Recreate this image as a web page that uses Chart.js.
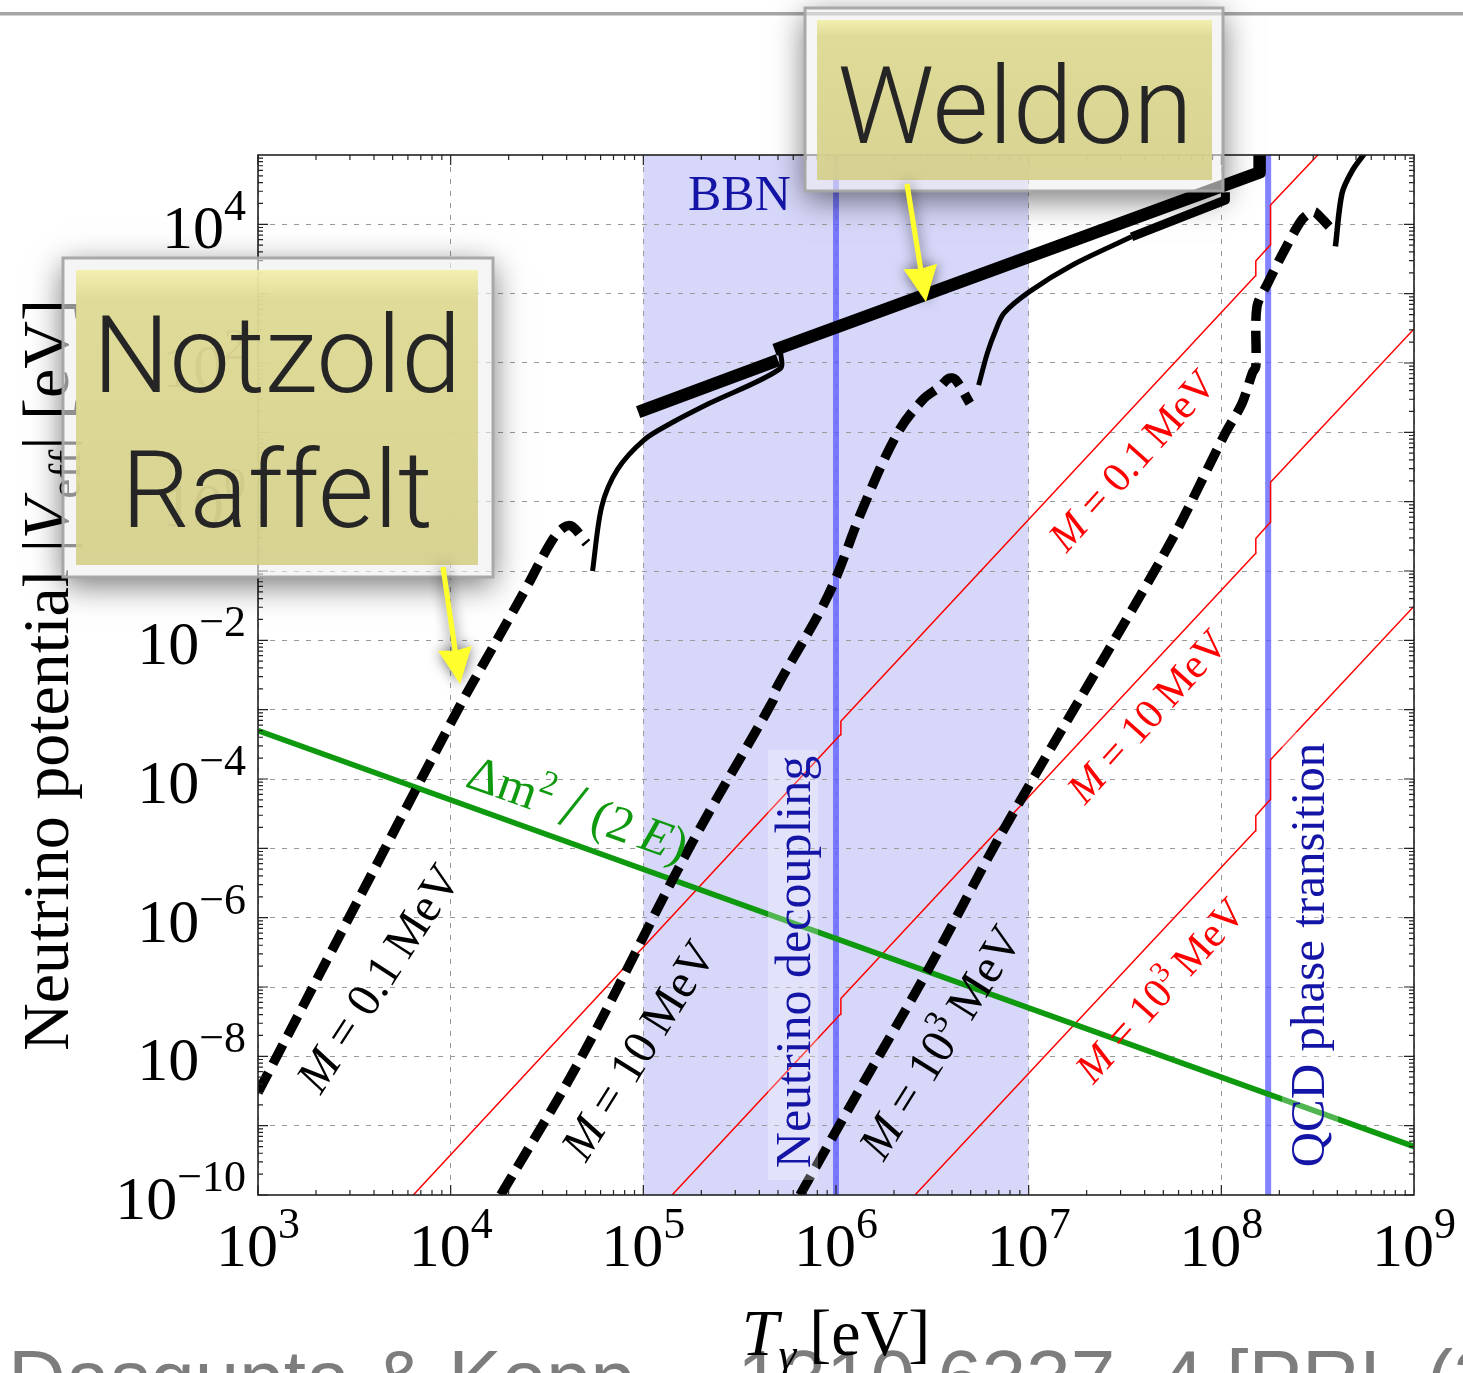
<!DOCTYPE html>
<html>
<head>
<meta charset="utf-8">
<script src="https://cdn.jsdelivr.net/npm/chart.js@4.4.1/dist/chart.umd.min.js"></script>
<style>
  html, body { margin: 0; padding: 0; background: #fff; }
  canvas { display: block; }
</style>
</head>
<body>
<canvas id="chart" width="1463" height="1373"></canvas>
<script>
// axis decades
const xTickExps = [3, 4, 5, 6, 7, 8, 9];
const yTickExps = [4, 2, 0, -2, -4, -6, -8, -10];
const yGridExps = [-9, -8, -7, -6, -5, -4, -3, -2, -1, 0, 1, 2, 3, 4];

// shaded BBN band and vertical markers (T in eV)
const bbnRange = [1e5, 1e7];
const nuDecT = 1e6;
const qcdT = 1.75e8;

// Delta m^2 / (2E)
const greenT = [1e3, 1e9];
const greenV = [5e-4, 5e-10];

// red lines, M = 0.1, 10, 10^3 MeV
const redAT = [6.4e3, 1.05e6, 1.06e6, 1.5e8, 1.51e8, 1.79e8, 1.8e8, 3.24e8];
const redAV = [1e-10, 4.3e-4, 6.8e-4, 1.8e3, 2.95e3, 5.0e3, 1.9e4, 1.07e5];
const redBT = [1.41e5, 1.05e6, 1.06e6, 1.5e8, 1.51e8, 1.79e8, 1.8e8, 1e9];
const redBV = [1e-10, 4.0e-8, 6.8e-8, 0.178, 0.295, 0.50, 1.9, 310];
const redCT = [2.57e6, 1.5e8, 1.51e8, 1.79e8, 1.8e8, 1e9];
const redCV = [1e-10, 1.78e-5, 2.95e-5, 5.0e-5, 1.9e-4, 3.1e-2];

// black curves: dashed (T << M) and solid (T >> M)
const dash01T = [1e3, 3.16e3, 1.1e4, 1.58e4, 2.44e4, 3.37e4, 3.89e4, 4.27e4, 5.08e4];
const dash01V = [3.0e-9, 1.4e-6, 1.05e-3, 6.3e-3, 5.4e-2, 0.28, 0.43, 0.44, 0.25];
const sol01T = [5.45e4, 6.08e4, 7.33e4, 1.01e5, 1.39e5, 2.19e5, 5.13e5, 5.15e5];
const sol01V = [0.10, 0.85, 2.9, 7.8, 13.5, 26, 83, 148];

const dash10T = [1.82e4, 4.69e4, 1.75e5, 4.73e5, 4.84e5, 9.12e5, 1.39e6, 2.09e6, 2.82e6, 3.47e6, 3.85e6, 4.17e6, 4.95e6];
const dash10V = [1e-10, 8.9e-9, 1.07e-5, 1.38e-3, 1.9e-3, 4.5e-2, 0.85, 9.8, 29.5, 45.7, 60, 57.5, 26.3];
const sol10T = [5.5e6, 6.1e6, 6.76e6, 7.45e6, 1.01e7, 1.68e7, 3.42e7];
const sol10V = [48, 138, 302, 525, 1.07e3, 2.57e3, 6.6e3];
const sol10bT = [3.42e7, 1.05e8, 1.05e8];
const sol10bV = [6.6e3, 2.24e4, 2.9e4];

const dash1kT = [6.5e5, 1.23e6, 2.95e6, 7.1e6, 2.54e7, 5.64e7, 1.05e8, 1.28e8, 1.45e8, 1.51e8, 1.53e8, 1.74e8, 2.13e8, 2.61e8, 2.95e8, 3.09e8, 3.63e8];
const dash1kV = [1e-10, 2.3e-9, 1.6e-7, 1.5e-5, 6.5e-3, 0.31, 9.8, 26, 72, 89, 646, 1.41e3, 4.27e3, 1.15e4, 1.51e4, 1.48e4, 9.3e3];
const sol1kT = [3.91e8, 4.23e8, 4.79e8, 5.56e8];
const sol1kV = [4.8e3, 2.8e4, 6.0e4, 1.07e5];

// thick "Weldon" asymptote
const weld1T = [9.4e4, 5.0e5];
const weld1V = [19.5, 110];
const weld2T = [4.8e5, 1.58e8, 1.58e8];
const weld2V = [155, 5.6e4, 1.2e5];

const SERIF = '"Liberation Serif", "Times New Roman", serif';
const pts = (T, V) => T.map((t, i) => ({ x: t, y: V[i] }));

function line(T, V, color, width, extra) {
  return Object.assign({
    data: pts(T, V), showLine: true, borderColor: color, borderWidth: width,
    pointRadius: 0, tension: 0, fill: false, borderJoinStyle: 'round'
  }, extra || {});
}

function richWidth(ctx, parts) {
  let w = 0;
  parts.forEach(p => { ctx.font = p.font; w += ctx.measureText(p.t).width; });
  return w;
}
function drawRich(ctx, parts, x, y, angle, align, color) {
  ctx.save();
  ctx.translate(x, y);
  ctx.rotate(angle * Math.PI / 180);
  ctx.fillStyle = color;
  ctx.textBaseline = 'alphabetic';
  ctx.textAlign = 'left';
  const w = richWidth(ctx, parts);
  let cx = align === 'center' ? -w / 2 : align === 'right' ? -w : 0;
  parts.forEach(p => {
    ctx.font = p.font;
    ctx.fillText(p.t, cx, p.dy || 0);
    cx += ctx.measureText(p.t).width;
  });
  ctx.restore();
  return w;
}
function powParts(e, big, small, raise) {
  const s = (e < 0 ? '\u2212' + (-e) : String(e));
  return [{ t: '10', font: big + 'px ' + SERIF }, { t: s, font: small + 'px ' + SERIF, dy: -raise }];
}
function mLabel(pre, exp, size, dy) {
  const f = size + 'px ' + SERIF, fi = 'italic ' + size + 'px ' + SERIF;
  const parts = [{ t: 'M', font: fi, dy }, { t: ' = ' + pre, font: f, dy }];
  if (exp) parts.push({ t: exp, font: Math.round(size * 0.68) + 'px ' + SERIF, dy: dy - size * 0.4 });
  parts.push({ t: '\u2009MeV', font: f, dy });
  return parts;
}

const bandPlugin = {
  id: 'band',
  beforeDraw(chart) {
    const { ctx, chartArea: a, scales: { x } } = chart;
    // clipped footer line of the slide
    ctx.save();
    ctx.fillStyle = '#7d7d7d';
    ctx.font = '80px "Liberation Sans", Arial, sans-serif';
    ctx.fillText('Dasgupta & Kopp', 8, 1406);
    ctx.fillText('1310.6337, 4 [PRL (2014)]', 737, 1406);
    ctx.restore();
    const x0 = x.getPixelForValue(bbnRange[0]);
    const x1 = x.getPixelForValue(bbnRange[1]);
    ctx.save();
    ctx.fillStyle = 'rgb(215,215,250)';
    ctx.fillRect(x0, a.top, x1 - x0, a.bottom - a.top);
    ctx.restore();
  }
};

const axesPlugin = {
  id: 'axes',
  afterDatasetsDraw(chart) {
    const { ctx, chartArea: a, scales: { x, y } } = chart;
    ctx.save();
    // minor / major tick marks on all four sides
    ctx.strokeStyle = '#222';
    ctx.lineWidth = 1.2;
    ctx.beginPath();
    for (let d = 3; d < 9; d++) {
      for (let k = 1; k < 10; k++) {
        const px = x.getPixelForValue(k * Math.pow(10, d));
        const L = k === 1 ? 10 : 5;
        ctx.moveTo(px, a.bottom); ctx.lineTo(px, a.bottom - L);
        ctx.moveTo(px, a.top); ctx.lineTo(px, a.top + L);
      }
    }
    for (let d = -10; d < 5; d++) {
      for (let k = 1; k < 10; k++) {
        const py = y.getPixelForValue(k * Math.pow(10, d));
        const L = k === 1 ? 10 : 5;
        ctx.moveTo(a.left, py); ctx.lineTo(a.left + L, py);
        ctx.moveTo(a.right, py); ctx.lineTo(a.right - L, py);
      }
    }
    ctx.stroke();
    ctx.lineWidth = 1.6;
    ctx.strokeRect(a.left, a.top, a.right - a.left, a.bottom - a.top);
    ctx.restore();

    // tick labels
    xTickExps.forEach(e => {
      drawRich(ctx, powParts(e, 62, 44, 28), x.getPixelForValue(Math.pow(10, e)), 1266, 0, 'center', '#000');
    });
    yTickExps.forEach(e => {
      const py = y.getPixelForValue(Math.pow(10, e));
      drawRich(ctx, powParts(e, 62, 44, 28), 246, py + 24, 0, 'right', '#000');
    });

    // axis titles
    const t64 = '66px ' + SERIF, i64 = 'italic 66px ' + SERIF, s44 = '45px ' + SERIF;
    drawRich(ctx, [
      { t: 'Neutrino potential |', font: t64 },
      { t: 'V', font: i64 },
      { t: 'eff', font: s44, dy: 12 },
      { t: '| [eV]', font: t64 }
    ], 68, 675, -90, 'center', '#000');
    drawRich(ctx, [
      { t: 'T', font: i64 },
      { t: '\u03b3', font: 'italic 45px ' + SERIF, dy: 14 },
      { t: '\u2009[eV]', font: t64 }
    ], 836, 1355, 0, 'center', '#000');

    // region labels
    const blue = '#1414a6';
    drawRich(ctx, [{ t: 'BBN', font: '50px ' + SERIF }], 688, 210, 0, 'left', blue);
    ctx.save();
    ctx.fillStyle = 'rgba(255,255,255,0.28)';
    ctx.fillRect(768, 750, 50, 430);
    ctx.fillRect(1282, 732, 56, 446);
    ctx.restore();
    drawRich(ctx, [{ t: 'Neutrino decoupling', font: '50px ' + SERIF }], 810, 962, -90, 'center', blue);
    drawRich(ctx, [{ t: 'QCD phase transition', font: '49px ' + SERIF }], 1324, 955, -90, 'center', blue);

    // green label
    const g = '#0e990e';
    drawRich(ctx, [
      { t: '\u0394m', font: '50px ' + SERIF },
      { t: '2', font: '34px ' + SERIF, dy: -20 },
      { t: ' ', font: '50px ' + SERIF },
      { t: '/', font: '66px ' + SERIF, dy: 4 },
      { t: ' (2\u2009', font: '50px ' + SERIF },
      { t: 'E', font: 'italic 50px ' + SERIF },
      { t: ')', font: '50px ' + SERIF }
    ], 464, 786, 19.5, 'left', g);

    // mass labels
    drawRich(ctx, mLabel('0.1', '', 48, 16), 378, 978, -57, 'center', '#000');
    drawRich(ctx, mLabel('10', '', 48, 16), 638, 1050, -58, 'center', '#000');
    drawRich(ctx, mLabel('10', '3', 48, 16), 940, 1042, -58, 'center', '#000');
    drawRich(ctx, mLabel('0.1', '', 42, 14), 1132, 460, -48, 'center', '#f00');
    drawRich(ctx, mLabel('10', '', 42, 14), 1147, 716, -48, 'center', '#f00');
    drawRich(ctx, mLabel('10', '3', 42, 14), 1160, 990, -48, 'center', '#f00');
  }
};

function noteBox(ctx, o, inner, lines, cx) {
  const [ox, oy, ow, oh] = o;
  const [ix, iy, iw, ih] = inner;
  // soft drop shadow outside the box only
  ctx.save();
  ctx.beginPath();
  ctx.rect(0, 0, 1463, 1373);
  ctx.rect(ox, oy, ow, oh);
  ctx.clip('evenodd');
  ctx.shadowColor = 'rgba(0,0,0,0.55)';
  ctx.shadowBlur = 30;
  ctx.shadowOffsetY = 8;
  ctx.fillStyle = '#ccc';
  ctx.fillRect(ox, oy, ow, oh);
  ctx.restore();

  ctx.save();
  ctx.fillStyle = 'rgba(238,238,238,0.6)';
  ctx.fillRect(ox, oy, ow, oh);
  ctx.strokeStyle = 'rgba(165,165,165,0.95)';
  ctx.lineWidth = 3;
  ctx.strokeRect(ox, oy, ow, oh);
  const grad = ctx.createLinearGradient(0, iy, 0, iy + ih);
  grad.addColorStop(0, 'rgba(243,239,168,0.9)');
  grad.addColorStop(0.1, 'rgba(221,216,142,0.9)');
  grad.addColorStop(1, 'rgba(212,207,135,0.9)');
  ctx.fillStyle = grad;
  ctx.fillRect(ix, iy, iw, ih);
  ctx.fillStyle = '#252525';
  ctx.font = '300 108px Roboto, "Liberation Sans", sans-serif';
  ctx.textAlign = 'center';
  lines.forEach(l => ctx.fillText(l[0], cx, l[1]));
  ctx.restore();
}

function arrow(ctx, x0, y0, x1, y1) {
  const ang = Math.atan2(y1 - y0, x1 - x0);
  const L = Math.hypot(x1 - x0, y1 - y0);
  ctx.save();
  ctx.shadowColor = 'rgba(0,0,0,0.6)';
  ctx.shadowBlur = 14;
  ctx.translate(x1, y1);
  ctx.rotate(ang);
  ctx.fillStyle = '#ffff2e';
  ctx.beginPath();
  ctx.moveTo(-L, -2.6); ctx.lineTo(-34, -2.6); ctx.lineTo(-36, -17);
  ctx.lineTo(0, 0);
  ctx.lineTo(-36, 17); ctx.lineTo(-34, 2.6); ctx.lineTo(-L, 2.6);
  ctx.closePath();
  ctx.fill();
  ctx.restore();
}

const notesPlugin = {
  id: 'notes',
  afterDraw(chart) {
    const ctx = chart.ctx;
    ctx.save();
    ctx.fillStyle = '#a6a6a6';
    ctx.fillRect(0, 12, 1463, 3.5);
    ctx.restore();
    noteBox(ctx, [805, 8, 418, 183], [817, 20, 395, 160], [['Weldon', 143]], 1015);
    noteBox(ctx, [63, 258, 430, 319], [76, 270, 402, 295], [['Notzold', 392], ['Raffelt', 527]], 277);
    arrow(ctx, 907, 184, 926, 302);
    arrow(ctx, 443, 567, 460, 684);
  }
};

new Chart(document.getElementById('chart'), {
  type: 'scatter',
  data: {
    datasets: [
      line(dash01T, dash01V, '#000', 9.5, { borderDash: [22, 10], tension: 0.35, order: 1 }),
      line(sol01T, sol01V, '#000', 5, { tension: 0.3, order: 1 }),
      line(weld1T, weld1V, '#000', 12.5, { order: 1 }),
      line(weld2T, weld2V, '#000', 12.5, { order: 1 }),
      line(dash10T, dash10V, '#000', 9.5, { borderDash: [22, 10], tension: 0.35, order: 1 }),
      line(sol10T, sol10V, '#000', 5, { tension: 0.3, order: 1 }),
      line(sol10bT, sol10bV, '#000', 9, { order: 1 }),
      line(dash1kT, dash1kV, '#000', 9.5, { borderDash: [22, 10], tension: 0.3, order: 1 }),
      line(sol1kT, sol1kV, '#000', 5.5, { tension: 0.3, order: 1 }),
      line(greenT, greenV, '#0e990e', 5.5, { order: 2 }),
      line(redAT, redAV, '#ff0000', 1.5, { order: 3 }),
      line(redBT, redBV, '#ff0000', 1.5, { order: 3 }),
      line(redCT, redCV, '#ff0000', 1.5, { order: 3 }),
      line([nuDecT, nuDecT], [1e-10, 1e5], 'rgba(90,90,255,0.75)', 6, { order: 4 }),
      line([qcdT, qcdT], [1e-10, 1e5], 'rgba(90,90,255,0.75)', 6, { order: 4 })
    ]
  },
  options: {
    responsive: false,
    animation: false,
    devicePixelRatio: 1,
    layout: { padding: { left: 258, top: 155, right: 49, bottom: 178 } },
    plugins: { legend: { display: false }, tooltip: { enabled: false } },
    scales: {
      x: {
        type: 'logarithmic', min: 1e3, max: 1e9,
        afterBuildTicks: s => { s.ticks = xTickExps.map(e => ({ value: Math.pow(10, e) })); },
        ticks: { display: false },
        grid: { color: '#9a9a9a', lineWidth: 1, drawTicks: false },
        border: { display: false, dash: [5, 7] }
      },
      y: {
        type: 'logarithmic', min: 1e-10, max: 1e5,
        afterBuildTicks: s => { s.ticks = yGridExps.map(e => ({ value: Math.pow(10, e) })); },
        ticks: { display: false },
        grid: { color: '#9a9a9a', lineWidth: 1, drawTicks: false },
        border: { display: false, dash: [5, 7] }
      }
    }
  },
  plugins: [bandPlugin, axesPlugin, notesPlugin]
});
</script>
</body>
</html>
